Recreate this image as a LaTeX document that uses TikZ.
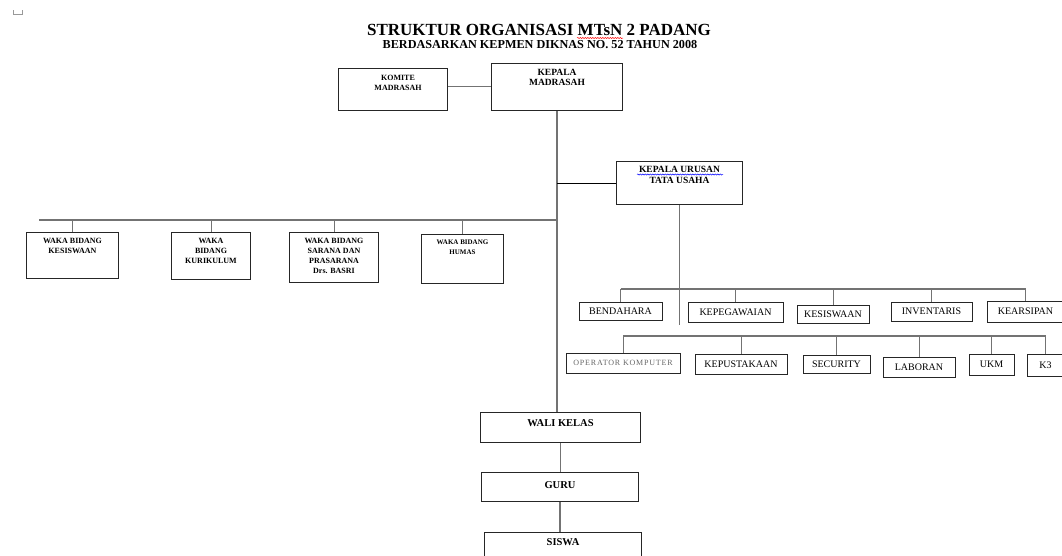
\documentclass[tikz,border=0pt]{standalone}
\usepackage{fontspec}
\setmainfont{Liberation Serif}
\usetikzlibrary{decorations.pathmorphing}

\tikzset{
  orgbox/.style={draw=black!85, line width=1pt, inner sep=0pt, anchor=north west},
  toplbl/.style={anchor=north, inner sep=0pt, yshift=-6pt, align=center, font=\bfseries\fontsize{8}{10}\selectfont},
  cellbox/.style={draw=black!85, line width=1pt, inner sep=0pt, font=\fontsize{10}{12}\selectfont},
  bus/.style={draw=black!55, line width=1.3pt},
  link/.style={draw=black, line width=0.8pt},
  squiggle/.style={decorate, decoration={snake, amplitude=0.6pt, segment length=2.5pt}, line width=0.5pt},
}

\begin{document}
\begin{tikzpicture}[x=1pt, y=-1pt]
        \path[use as bounding box, clip] (0,0) rectangle (1062,555);

        % title
        \draw[black!40, line width=0.6pt] (13,10) -- (13,14) -- (22,14) -- (22,10);
        \node[anchor=base, inner sep=0pt, font=\bfseries\fontsize{17}{18}\selectfont] (title) at (539,35.5) {STRUKTUR ORGANISASI MTsN 2 PADANG};
        \node[anchor=base, inner sep=0pt, font=\bfseries\fontsize{12.2}{14}\selectfont] (subtitle) at (540,48.5) {BERDASARKAN KEPMEN DIKNAS NO. 52 TAHUN 2008};
        \draw[squiggle, red] (577,38) -- (623,38);

        % top
        \node[orgbox, minimum width=109pt, minimum height=42pt, label={[toplbl, xshift=5pt, yshift=-0.5pt]north:{KOMITE\\MADRASAH}}] (komite) at (338,68) {};
        \node[orgbox, minimum width=131pt, minimum height=47pt, label={[toplbl, font=\bfseries\fontsize{9.5}{10}\selectfont]north:{KEPALA\\MADRASAH}}] (kepala) at (491,63) {};
        \node[orgbox, minimum width=126pt, minimum height=43pt, label={[toplbl, yshift=1pt, font=\bfseries\fontsize{9.5}{11.3}\selectfont]north:{KEPALA URUSAN\\TATA USAHA}}] (tu) at (616,161) {};
        \draw[squiggle, blue] (637,174.5) -- (723,174.5);

        % waka
        \node[orgbox, minimum width=92pt, minimum height=46pt, label={[toplbl]north:{WAKA BIDANG\\KESISWAAN}}] (kesis) at (26,232) {};
        \node[orgbox, minimum width=79pt, minimum height=47pt, label={[toplbl]north:{WAKA\\BIDANG\\KURIKULUM}}] (kurik) at (171,232) {};
        \node[orgbox, minimum width=89pt, minimum height=50pt, label={[toplbl]north:{WAKA BIDANG\\SARANA DAN\\PRASARANA\\Drs. BASRI}}] (sarpras) at (289,232) {};
        \node[orgbox, minimum width=82pt, minimum height=49pt, label={[toplbl, font=\bfseries\fontsize{7}{10}\selectfont]north:{WAKA BIDANG\\HUMAS}}] (humas) at (421,234) {};

        % tata usaha
        \node[cellbox, minimum width=83pt, minimum height=18pt] (bend) at (620.5,311) {BENDAHARA};
        \node[cellbox, minimum width=95pt, minimum height=20pt] (kepeg) at (735.5,312) {KEPEGAWAIAN};
        \node[cellbox, minimum width=72pt, minimum height=18pt] (kesistu) at (833,314) {KESISWAAN};
        \node[cellbox, minimum width=81pt, minimum height=19pt] (inv) at (931.5,311.5) {INVENTARIS};
        \node[cellbox, minimum width=77pt, minimum height=21pt] (kears) at (1025.5,311.5) {KEARSIPAN};

        \node[cellbox, minimum width=114pt, minimum height=20pt, text=black!60, font=\fontsize{8}{10}\selectfont\addfontfeature{LetterSpace=10}] (oper) at (623,363) {OPERATOR KOMPUTER};
        \node[cellbox, minimum width=92pt, minimum height=20pt] (kepus) at (741,364) {KEPUSTAKAAN};
        \node[cellbox, minimum width=67pt, minimum height=18pt] (secur) at (836.5,364) {SECURITY};
        \node[cellbox, minimum width=72pt, minimum height=20pt] (labor) at (919,367) {LABORAN};
        \node[cellbox, minimum width=45pt, minimum height=21pt] (ukm) at (991.5,364.5) {UKM};
        \node[cellbox, minimum width=37pt, minimum height=22pt] (kthree) at (1045.5,365) {K3};

        % bottom
        \node[orgbox, minimum width=160pt, minimum height=30pt, label={[toplbl, yshift=-1pt, font=\bfseries\fontsize{10.5}{12}\selectfont]north:{WALI KELAS}}] (wali) at (480,412) {};
        \node[orgbox, minimum width=157pt, minimum height=29pt, label={[toplbl, yshift=-3pt, font=\bfseries\fontsize{10.5}{12}\selectfont]north:{GURU}}] (guru) at (481,472) {};
        \node[orgbox, minimum width=157pt, minimum height=40pt, label={[toplbl, font=\bfseries\fontsize{10.5}{12}\selectfont]north:{SISWA}}] (siswa) at (484,532) {};

        % lines
        \draw[bus, line width=0.9pt] ([yshift=3pt]komite.east) -- ([yshift=3pt]komite.east -| kepala.west);
        \draw[bus, line width=1.6pt] (kepala.south) -- (kepala.south |- wali.north);
        \draw[link] (tu.west) -- (tu.west -| kepala.south);

        \coordinate (wakaL) at (39,220);
        \draw[bus] (wakaL) -- (wakaL -| kepala.south);
        \foreach \b in {kesis,kurik,sarpras,humas}
            \draw[bus, line width=1pt] (\b.north) -- (\b.north |- wakaL);

        \coordinate (tuEnd) at (677,325);
        \draw[bus] (tu.south) -- (tu.south |- tuEnd);

        \coordinate (row1) at (0,289);
        \draw[bus] (bend.north |- row1) -- (kears.north |- row1);
        \foreach \b in {bend,kepeg,kesistu,inv,kears}
            \draw[bus, line width=1pt] (\b.north) -- (\b.north |- row1);

        \coordinate (row2) at (0,336);
        \draw[bus] (oper.north |- row2) -- (kthree.north |- row2);
        \foreach \b in {oper,kepus,secur,labor,ukm,kthree}
            \draw[bus, line width=1pt] (\b.north) -- (\b.north |- row2);

        \draw[bus, line width=1.2pt] (wali.south) -- (wali.south |- guru.north);
        \draw[bus, line width=1.2pt] (guru.south) -- (guru.south |- siswa.north);
    \end{tikzpicture}
\end{document}
